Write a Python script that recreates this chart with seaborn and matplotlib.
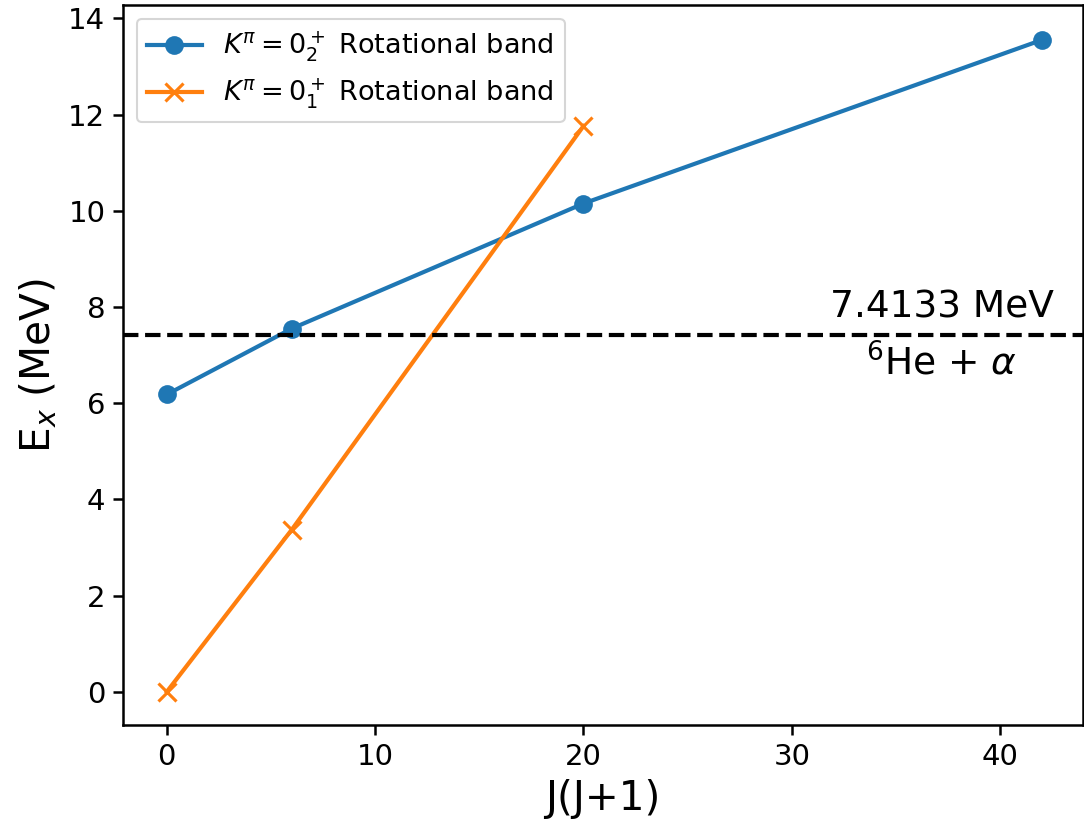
import matplotlib
matplotlib.use("Agg")
import matplotlib.pyplot as plt
import seaborn as sns
import pandas as pd

# Data
jj_band2 = [0, 6, 20, 42]
ex_band2 = [6.18, 7.55, 10.15, 13.55]
jj_band1 = [0, 6, 20]
ex_band1 = [0.0, 3.37, 11.76]
threshold = 7.4133
label_band2 = r"$K^{\pi}=0^+_2$ Rotational band"
label_band1 = r"$K^{\pi}=0^+_1$ Rotational band"

df2 = pd.DataFrame({"x": jj_band2, "y": ex_band2})
df1 = pd.DataFrame({"x": jj_band1, "y": ex_band1})

fig = plt.figure(figsize=(1084 / 150, 831 / 150), dpi=150)
ax = fig.add_axes([0.1135, 0.1276, 0.886, 0.866])

sns.lineplot(data=df2, x="x", y="y", ax=ax, color="#1f77b4", marker="o",
             markersize=9, markeredgewidth=0, markeredgecolor="#1f77b4",
             linewidth=2, label=label_band2, legend=False)
sns.lineplot(data=df1, x="x", y="y", ax=ax, color="#ff7f0e", marker="x",
             markersize=9, markeredgewidth=1.5, markeredgecolor="#ff7f0e",
             linewidth=2, label=label_band1, legend=False)

ax.axhline(threshold, color="black", linestyle="--", linewidth=2)
ax.text(37.2, 7.62, "7.4133 MeV", ha="center", va="bottom", fontsize=18)
ax.text(37.2, 7.22, r"$^6$He + $\alpha$", ha="center", va="top", fontsize=18)

ax.set_xlim(-2.1, 44.0)
ax.set_ylim(-0.69, 14.27)
ax.set_xticks([0, 10, 20, 30, 40])
ax.set_yticks(range(0, 15, 2))
ax.tick_params(labelsize=14, length=5, width=1.2)
for s in ax.spines.values():
    s.set_linewidth(1.2)
ax.set_xlabel("J(J+1)", fontsize=19.5)
ax.set_ylabel(r"E$_x$ (MeV)", fontsize=19.5)
ax.legend(handles=ax.lines[:2], loc="upper left", fontsize=13)

fig.savefig("out.png", dpi=150)
